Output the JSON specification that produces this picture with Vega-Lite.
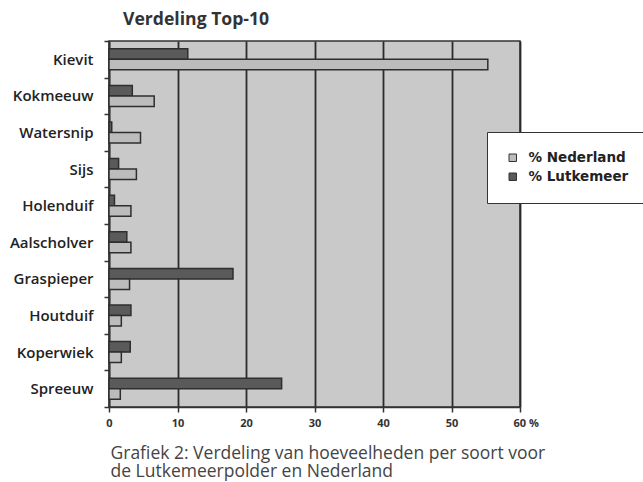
{
  "$schema": "https://vega.github.io/schema/vega-lite/v6.json",
  "width": 411,
  "height": 366,
  "autosize": {"type": "none"},
  "padding": {"left": 109, "top": 41, "right": 123, "bottom": 75},
  "background": "white",
  "title": {
    "text": "Verdeling Top-10",
    "anchor": "start",
    "frame": "group",
    "dx": 14,
    "offset": 5,
    "font": "Open Sans",
    "fontSize": 17.6,
    "fontWeight": "bold",
    "color": "#333"
  },
  "data": {
    "values": [
      {"soort": "Kievit", "reeks": "% Lutkemeer", "waarde": 11.5},
      {"soort": "Kievit", "reeks": "% Nederland", "waarde": 55.3},
      {"soort": "Kokmeeuw", "reeks": "% Lutkemeer", "waarde": 3.4},
      {"soort": "Kokmeeuw", "reeks": "% Nederland", "waarde": 6.6},
      {"soort": "Watersnip", "reeks": "% Lutkemeer", "waarde": 0.4},
      {"soort": "Watersnip", "reeks": "% Nederland", "waarde": 4.6},
      {"soort": "Sijs", "reeks": "% Lutkemeer", "waarde": 1.4},
      {"soort": "Sijs", "reeks": "% Nederland", "waarde": 4.0},
      {"soort": "Holenduif", "reeks": "% Lutkemeer", "waarde": 0.8},
      {"soort": "Holenduif", "reeks": "% Nederland", "waarde": 3.2},
      {"soort": "Aalscholver", "reeks": "% Lutkemeer", "waarde": 2.6},
      {"soort": "Aalscholver", "reeks": "% Nederland", "waarde": 3.2},
      {"soort": "Graspieper", "reeks": "% Lutkemeer", "waarde": 18.1},
      {"soort": "Graspieper", "reeks": "% Nederland", "waarde": 3.0},
      {"soort": "Houtduif", "reeks": "% Lutkemeer", "waarde": 3.2},
      {"soort": "Houtduif", "reeks": "% Nederland", "waarde": 1.8},
      {"soort": "Koperwiek", "reeks": "% Lutkemeer", "waarde": 3.1},
      {"soort": "Koperwiek", "reeks": "% Nederland", "waarde": 1.8},
      {"soort": "Spreeuw", "reeks": "% Lutkemeer", "waarde": 25.2},
      {"soort": "Spreeuw", "reeks": "% Nederland", "waarde": 1.65}
    ]
  },
  "mark": {"type": "bar", "strokeWidth": 1.5, "stroke": "#2e2e2e"},
  "encoding": {
    "y": {
      "field": "soort",
      "type": "nominal",
      "sort": null,
      "scale": {"paddingInner": 0, "paddingOuter": 0},
      "axis": {
        "title": null,
        "tickBand": "extent",
        "tickSize": 5,
        "tickColor": "#333",
        "tickWidth": 1.5,
        "domainColor": "#333",
        "domainWidth": 1.5,
        "labelPadding": 11,
        "labelFont": "Open Sans",
        "labelFontSize": 15,
        "labelFontWeight": 600,
        "labelColor": "#222"
      }
    },
    "yOffset": {
      "field": "reeks",
      "type": "nominal",
      "scale": {"domain": ["% Lutkemeer", "% Nederland"], "paddingInner": 0, "paddingOuter": 0.74}
    },
    "x": {
      "field": "waarde",
      "type": "quantitative",
      "scale": {"domain": [0, 60], "nice": false},
      "axis": {
        "values": [0, 10, 20, 30, 40, 50, 60],
        "grid": true,
        "gridColor": "#2b2b2b",
        "gridWidth": 1.8,
        "gridOpacity": 1,
        "domainColor": "#333",
        "domainWidth": 1.5,
        "tickColor": "#333",
        "tickWidth": 1.5,
        "tickSize": 5,
        "labelFont": "Open Sans",
        "labelFontSize": 11,
        "labelFontWeight": "bold",
        "labelColor": "#333",
        "labelPadding": 5,
        "labelExpr": "datum.value == 60 ? '60  %' : datum.label",
        "labelAlign": {"condition": {"test": "datum.value == 60", "value": "left"}, "value": "center"},
        "labelOffset": {"condition": {"test": "datum.value == 60", "value": -7}, "value": 0},
        "title": ["Grafiek 2: Verdeling van hoeveelheden per soort voor", "de Lutkemeerpolder en Nederland"],
        "titleFont": "Open Sans",
        "titleFontSize": 17.5,
        "titleFontWeight": "normal",
        "titleColor": "#444",
        "titleAlign": "left",
        "titleAnchor": "start",
        "titleBaseline": "alphabetic",
        "titleX": 1,
        "titleY": 51,
        "titleLineHeight": 18.5
      }
    },
    "color": {
      "field": "reeks",
      "type": "nominal",
      "scale": {"domain": ["% Nederland", "% Lutkemeer"], "range": ["#bcbcbc", "#5a5a5a"]},
      "legend": {
        "title": null,
        "orient": "none",
        "legendX": 378,
        "legendY": 91,
        "padding": 19,
        "fillColor": "white",
        "strokeColor": "#333",
        "symbolType": "square",
        "symbolSize": 56,
        "symbolStrokeColor": "#333",
        "symbolStrokeWidth": 1,
        "labelFont": "DejaVu Sans",
        "labelFontSize": 13.5,
        "labelFontWeight": "bold",
        "labelColor": "#222",
        "labelOffset": 9,
        "rowPadding": 4
      }
    }
  },
  "config": {
    "view": {"fill": "#c9c9c9", "stroke": "#333", "strokeWidth": 1.5}
  }
}
